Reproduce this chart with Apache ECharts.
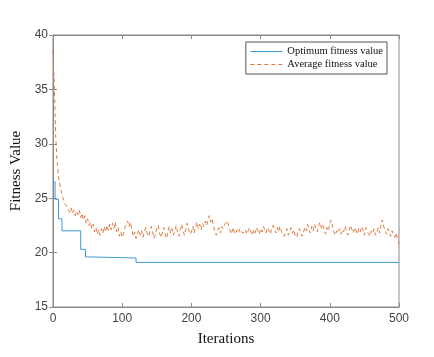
<!DOCTYPE html>
<html>
<head>
<meta charset="utf-8">
<style>
  html, body { margin: 0; padding: 0; background: #fff; }
  #chart { width: 434px; height: 357px; }
</style>
<script src="https://cdn.jsdelivr.net/npm/echarts@6/dist/echarts.min.js"></script>
</head>
<body>
<div id="chart"></div>
<script>
// best-so-far fitness: value holds from each iteration until the next one
const bestIters = [0, 3, 8, 13, 40, 47, 56, 120, 500];
const bestVals = [26.5, 24.9, 23.1, 22.0, 20.3, 19.6, 19.5, 19.1, 19.1];

// average fitness, read every 2 iterations (0, 2, 4, ... 500)
const avgStep = 2;
const avgVals = [
  38.6, 35.0, 30.6, 28.3, 27.0, 26.2, 25.6, 25.1, 24.7, 24.4, 24.2,
  24.0, 23.7, 24.1, 23.6, 23.9, 23.4, 23.8, 23.5, 23.9, 23.2,
  23.6, 23.0, 23.4, 22.7, 23.1, 22.5, 22.8, 22.2, 22.6, 21.9,
  22.3, 21.7, 22.1, 21.6, 22.2, 21.8, 22.4, 21.9, 22.5, 22.0,
  22.6, 22.1, 22.7, 22.2, 22.8, 21.9, 22.3, 21.5, 21.9, 21.4,
  21.8, 22.3, 22.6, 22.9, 22.4, 22.8, 22.1, 21.5, 21.9, 21.3,
  21.7, 22.1, 21.6, 22.0, 21.4, 21.9, 22.3, 21.8, 21.5, 21.9,
  22.4, 21.9, 21.3, 21.7, 22.2, 22.5, 21.8, 21.4, 21.8, 22.3,
  21.7, 21.3, 21.9, 22.4, 21.8, 22.2, 21.6, 22.0, 22.5, 21.9,
  21.5, 22.1, 22.6, 22.0, 21.6, 22.2, 22.7, 22.1, 21.7, 21.9,
  22.4, 21.8, 22.3, 22.8, 22.2, 22.6, 22.1, 22.7, 22.4, 22.9,
  22.5, 23.0, 23.4, 22.8, 23.1, 22.4, 21.9, 21.6, 22.0, 22.3,
  21.8, 22.4, 22.2, 22.6, 22.5, 22.9, 22.4, 22.0, 21.7, 22.3,
  21.9, 21.7, 22.1, 21.8, 22.2, 21.9, 22.0, 21.8, 22.1, 21.7,
  22.0, 22.3, 21.9, 21.6, 22.1, 21.8, 22.3, 22.0, 21.7, 22.2,
  21.9, 22.4, 22.1, 21.8, 22.3, 22.0, 21.7, 22.2, 22.5, 22.1,
  21.8, 22.3, 21.9, 22.4, 22.0, 21.7, 21.5, 21.9, 22.2, 21.6,
  21.9, 22.3, 21.8, 22.1, 21.6, 21.4, 21.9, 22.2, 21.8, 21.5,
  21.9, 22.3, 22.0, 22.6, 22.1, 21.8, 22.4, 22.0, 22.6, 22.2,
  21.9, 22.5, 22.8, 22.2, 22.5, 22.0, 21.7, 22.3, 22.0, 22.7,
  23.0, 22.3, 21.9, 21.6, 22.0, 21.8, 22.2, 21.7, 22.1, 21.9,
  22.4, 22.0, 21.6, 22.1, 22.5, 22.1, 21.8, 22.3, 22.0, 21.7,
  22.2, 21.9, 22.4, 22.1, 21.6, 22.3, 22.0, 21.7, 21.5, 22.0,
  21.8, 22.2, 21.6, 21.9, 22.3, 21.8, 22.6, 23.0, 22.4, 22.0,
  21.7, 22.2, 21.9, 21.5, 22.0, 21.7, 21.4, 21.8, 21.2, 20.8
];

const xTicks = [0, 100, 200, 300, 400, 500];
const yTicks = [15, 20, 25, 30, 35, 40];
const seriesNames = ["Optimum fitness value", "Average fitness value"];

(() => {
  let myChart = echarts.init(document.querySelector("#chart"));
  const serif = "Liberation Serif";
  const sans = "Liberation Sans";
  const axisGray = "#8a8a8a";

  const bestData = bestIters.map((it, i) => [it, bestVals[i]]);
  const avgData = avgVals.map((v, i) => [i * avgStep, v]);

  const tickStyle = { show: true, inside: true, length: 4, lineStyle: { color: axisGray } };

  let option = {
    animation: false,
    grid: {
      left: 53,
      right: 35,
      top: 35,
      bottom: 50,
      show: true,
      borderColor: axisGray,
      borderWidth: 1,
    },
    legend: {
      orient: "vertical",
      right: 47,
      top: 42,
      padding: [4, 4, 4, 4],
      itemGap: 2,
      itemWidth: 32,
      itemHeight: 10,
      // hide the legend marker, keep only the line sample
      itemStyle: { color: "rgba(0,0,0,0)", borderColor: "rgba(0,0,0,0)", borderWidth: 0 },
      lineStyle: { width: 1 },
      borderColor: "#555",
      borderWidth: 1,
      backgroundColor: "#fff",
      textStyle: { fontFamily: serif, fontSize: 10.5, color: "#111" },
      data: seriesNames,
    },
    xAxis: [
      {
        type: "value",
        min: xTicks[0],
        max: xTicks[xTicks.length - 1],
        interval: 100,
        name: "Iterations",
        nameLocation: "middle",
        nameGap: 25,
        nameTextStyle: { fontFamily: serif, fontSize: 15, color: "#111" },
        axisLine: { show: true, lineStyle: { color: axisGray } },
        axisTick: tickStyle,
        axisLabel: { fontFamily: sans, fontSize: 12, color: "#444", margin: 6 },
        splitLine: { show: false },
      },
      {
        type: "value",
        position: "top",
        min: xTicks[0],
        max: xTicks[xTicks.length - 1],
        interval: 100,
        axisLine: { show: true, lineStyle: { color: axisGray } },
        axisTick: tickStyle,
        axisLabel: { show: false },
        splitLine: { show: false },
      },
    ],
    yAxis: [
      {
        type: "value",
        min: yTicks[0],
        max: yTicks[yTicks.length - 1],
        interval: 5,
        name: "Fitness Value",
        nameLocation: "middle",
        nameGap: 25,
        nameTextStyle: { fontFamily: serif, fontSize: 15, color: "#111" },
        axisLine: { show: true, lineStyle: { color: axisGray } },
        axisTick: tickStyle,
        axisLabel: { fontFamily: sans, fontSize: 12, color: "#444", margin: 5 },
        splitLine: { show: false },
      },
      {
        type: "value",
        position: "right",
        min: yTicks[0],
        max: yTicks[yTicks.length - 1],
        interval: 5,
        axisLine: { show: true, lineStyle: { color: axisGray } },
        axisTick: tickStyle,
        axisLabel: { show: false },
        splitLine: { show: false },
      },
    ],
    series: [
      {
        name: seriesNames[0],
        type: "line",
        step: "end",
        symbol: "none",
        data: bestData,
        lineStyle: { color: "#3f98d3", width: 1 },
        itemStyle: { color: "#3f98d3" },
      },
      {
        name: seriesNames[1],
        type: "line",
        symbol: "none",
        data: avgData,
        lineStyle: { color: "#e0773f", width: 1, type: [4, 3] },
        itemStyle: { color: "#e0773f" },
      },
    ],
  };
  myChart.setOption(option);
  window.addEventListener("resize", () => {
    myChart.resize();
  });
})();
</script>
</body>
</html>
